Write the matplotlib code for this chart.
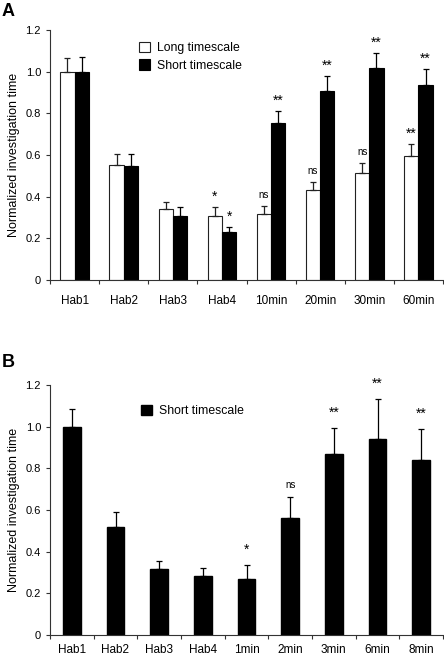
import matplotlib
matplotlib.use("Agg")
import matplotlib.pyplot as plt
import numpy as np

plt.rcParams['font.family'] = ['Liberation Sans', 'DejaVu Sans']

# Panel A data
cats_a = ["Hab1", "Hab2", "Hab3", "Hab4", "10min", "20min", "30min", "60min"]
long_vals = [1.0, 0.55, 0.34, 0.305, 0.315, 0.43, 0.515, 0.595]
long_err = [0.065, 0.055, 0.035, 0.045, 0.04, 0.04, 0.045, 0.06]
short_vals = [1.0, 0.545, 0.305, 0.23, 0.755, 0.905, 1.018, 0.938]
short_err = [0.07, 0.06, 0.045, 0.025, 0.056, 0.073, 0.07, 0.077]
long_sig = ["", "", "", "*", "ns", "ns", "ns", "**"]
short_sig = ["", "", "", "*", "**", "**", "**", "**"]

# Panel B data
cats_b = ["Hab1", "Hab2", "Hab3", "Hab4", "1min", "2min", "3min", "6min", "8min"]
b_vals = [1.0, 0.52, 0.317, 0.282, 0.267, 0.56, 0.867, 0.939, 0.84]
b_err = [0.085, 0.069, 0.04, 0.041, 0.069, 0.104, 0.128, 0.192, 0.149]
b_sig = ["", "", "", "", "*", "ns", "**", "**", "**"]

yticks = [0, 0.2, 0.4, 0.6, 0.8, 1.0, 1.2]
yticklabels = ["0", "0.2", "0.4", "0.6", "0.8", "1.0", "1.2"]

fig = plt.figure(figsize=(4.44, 6.56), dpi=100)
W, H = 444, 656
axA = fig.add_axes([50 / W, 1 - 280 / H, 393 / W, 250 / H])
axB = fig.add_axes([50 / W, 1 - 635 / H, 393 / W, 250 / H])

def style(ax, n, pad):
    ax.set_xlim(0, n)
    ax.set_ylim(0, 1.2)
    for s in ["top", "right"]:
        ax.spines[s].set_visible(False)
    for s in ["left", "bottom"]:
        ax.spines[s].set_color("#333333")
        ax.spines[s].set_linewidth(0.8)
    ax.set_yticks(yticks)
    ax.set_yticklabels(yticklabels, fontsize=8)
    ax.set_xticks(np.arange(n + 1))
    ax.set_xticklabels([])
    ax.set_xticks(np.arange(n) + 0.5, minor=True)
    ax.tick_params(axis="x", which="minor", length=0, pad=pad, labelsize=8.5)
    ax.tick_params(axis="both", which="major", direction="out", length=3, width=0.8, color="#333333")
    ax.set_ylabel("Normalized investigation time", fontsize=9)

# Panel A
n = len(cats_a)
xa = np.arange(n) + 0.5
bw = 0.29
axA.bar(xa - bw / 2, long_vals, bw, color="white", edgecolor="#222222", linewidth=0.8,
        yerr=[np.zeros(n), long_err], error_kw=dict(ecolor="#222222", elinewidth=0.9, capsize=2, capthick=0.9),
        label="Long timescale")
axA.bar(xa + bw / 2, short_vals, bw, color="black", edgecolor="black", linewidth=0.8,
        yerr=[np.zeros(n), short_err], error_kw=dict(ecolor="black", elinewidth=0.9, capsize=2, capthick=0.9),
        label="Short timescale")
style(axA, n, 10.5)
axA.set_xticklabels(cats_a, minor=True)
for i in range(n):
    for x, v, e, s in [(xa[i] - bw / 2, long_vals[i], long_err[i], long_sig[i]),
                       (xa[i] + bw / 2, short_vals[i], short_err[i], short_sig[i])]:
        if not s:
            continue
        if s == "ns":
            axA.text(x, v + e + 0.03, s, ha="center", va="bottom", fontsize=7)
        else:
            axA.text(x, v + e + 0.015, s, ha="center", va="bottom", fontsize=10)
axA.legend(loc="upper left", bbox_to_anchor=(0.213, 0.973), frameon=False, fontsize=8.8,
           handlelength=0.9, handleheight=0.9, handletextpad=0.6, labelspacing=0.45, borderaxespad=0)

# Panel B
m = len(cats_b)
xb = np.arange(m) + 0.5
bwb = 0.41
axB.bar(xb, b_vals, bwb, color="black", edgecolor="black",
        yerr=[np.zeros(m), b_err], error_kw=dict(ecolor="black", elinewidth=0.9, capsize=2, capthick=0.9),
        label="Short timescale")
style(axB, m, 6.5)
axB.set_xticklabels(cats_b, minor=True)
for i in range(m):
    s = b_sig[i]
    if not s:
        continue
    if s == "ns":
        axB.text(xb[i], b_vals[i] + b_err[i] + 0.03, s, ha="center", va="bottom", fontsize=7)
    else:
        axB.text(xb[i], b_vals[i] + b_err[i] + 0.04, s, ha="center", va="bottom", fontsize=10)
axB.legend(loc="upper left", bbox_to_anchor=(0.218, 0.94), frameon=False, fontsize=8.8,
           handlelength=0.9, handleheight=0.9, handletextpad=0.6, borderaxespad=0)

fig.text(2 / W, 1 - 11 / H, "A", fontsize=13, fontweight="bold", va="center", ha="left")
fig.text(2 / W, 1 - 362 / H, "B", fontsize=13, fontweight="bold", va="center", ha="left")

fig.savefig("out.png", dpi=100)
